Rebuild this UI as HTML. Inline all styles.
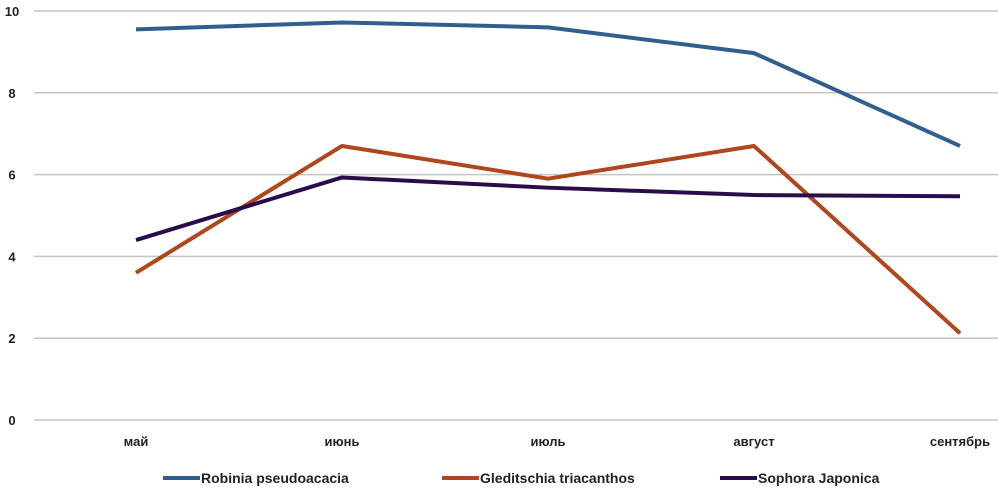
<!DOCTYPE html>
<html><head><meta charset="utf-8"><style>
body{margin:0;background:#fff;width:998px;height:493px;overflow:hidden}
svg{display:block;font-family:"Liberation Sans","DejaVu Sans",sans-serif}
</style></head><body>
<svg id="c" width="998" height="493"></svg>
<script>
const categories=["май","июнь","июль","август","сентябрь"];
const seriesNames=["Robinia pseudoacacia","Gleditschia triacanthos","Sophora Japonica"];
const robinia=[9.55,9.72,9.6,8.97,6.7];
const gleditschia=[3.6,6.7,5.9,6.7,2.12];
const sophora=[4.4,5.93,5.68,5.5,5.47];
const yTicks=[0,2,4,6,8,10];
const colors=["#2e5f8f","#b0461c","#2b0c4b"];
const svg=document.getElementById('c');const NS="http://www.w3.org/2000/svg";
function y(v){return 420-v*40.9;}
function x(i){return 136+i*206;}
function mk(t,a,p){const e=document.createElementNS(NS,t);for(const k in a)e.setAttribute(k,a[k]);(p||svg).appendChild(e);return e;}
yTicks.forEach(v=>{
 const l=mk('line',{x1:34,x2:998,y1:y(v),y2:y(v),stroke:'#c4c4c4','stroke-width':1.5});
 
 
 const t=mk('text',{x:12,y:y(v)+5,'text-anchor':'middle','font-size':13,'font-weight':'bold',fill:'#222'});t.textContent=v;
 
 
});
categories.forEach((c,i)=>{
 const t=mk('text',{x:x(i),y:446,'text-anchor':'middle','font-size':13,'font-weight':'bold',fill:'#222'});t.textContent=c;
 
 
});
[robinia,gleditschia,sophora].forEach((s,k)=>{
 const p=mk('polyline',{points:s.map((v,i)=>x(i)+','+y(v)).join(' '),fill:'none',stroke:colors[k],'stroke-width':4,'stroke-linejoin':'round'});
 
 
});
const lx=[163,442,720];
seriesNames.forEach((n,k)=>{
 const g=mk('g',{});
 
 
 mk('line',{x1:lx[k],x2:lx[k]+37,y1:478,y2:478,stroke:colors[k],'stroke-width':4},g);
 const t=mk('text',{x:lx[k]+38,y:483,'font-size':14,'font-weight':'bold',fill:'#222'},g);t.textContent=n;
});
</script>
</body></html>
